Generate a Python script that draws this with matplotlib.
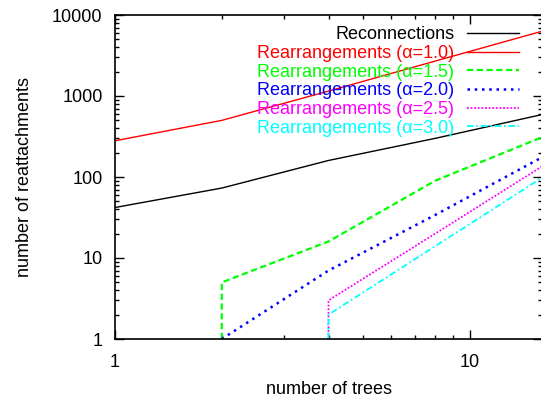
import numpy as np
import matplotlib.pyplot as plt
from matplotlib.ticker import LogLocator, NullFormatter, FixedLocator

plt.rcParams['font.family'] = ['Liberation Sans', 'DejaVu Sans']

# number of trees
trees = [1, 2, 4, 8, 16]

# reattachment counts
reconnections = [42, 73, 160, 300, 590]
rearr_10 = [280, 500, 1150, 2700, 6300]
# the vertical jumps come from the first defined point being on the axis floor
trees_15 = [2, 2, 4, 8, 16]
rearr_15 = [1, 5, 16, 90, 310]
trees_20 = [2, 4, 8, 16]
rearr_20 = [1, 7, 34, 175]
trees_25 = [4, 4, 8, 16]
rearr_25 = [1, 3, 20, 135]
trees_30 = [4, 4, 8, 16]
rearr_30 = [1, 2, 14, 98]

fig = plt.figure(figsize=(5.41, 4.0), dpi=100)
ax = fig.add_axes([115 / 541, 61 / 400, 427 / 541, 324 / 400])

ax.plot(trees, reconnections, color='black', lw=1.0, label='Reconnections')
ax.plot(trees, rearr_10, color='#ff0000', lw=1.0, label='Rearrangements (α=1.0)')
ax.plot(trees_15, rearr_15, color='#00ff00', lw=1.6, dashes=(2.8, 1.6),
        label='Rearrangements (α=1.5)')
ax.plot(trees_20, rearr_20, color='#0000ff', lw=1.8, dashes=(1, 1.9),
        label='Rearrangements (α=2.0)')
ax.plot(trees_25, rearr_25, color='#ff00ff', lw=1.3, dashes=(1, 1),
        label='Rearrangements (α=2.5)')
ax.plot(trees_30, rearr_30, color='#00ffff', lw=1.3, dashes=(3.5, 1.6, 1, 1.6),
        label='Rearrangements (α=3.0)')

ax.set_xscale('log')
ax.set_yscale('log')
ax.set_xlim(1, 16)
ax.set_ylim(1, 10000)

ax.xaxis.set_major_locator(FixedLocator([1, 10]))
ax.xaxis.set_major_formatter(plt.FuncFormatter(lambda v, p: '%d' % v))
ax.xaxis.set_minor_locator(LogLocator(base=10, subs=np.arange(2, 10)))
ax.xaxis.set_minor_formatter(NullFormatter())
ax.yaxis.set_major_locator(FixedLocator([1, 10, 100, 1000, 10000]))
ax.yaxis.set_major_formatter(plt.FuncFormatter(lambda v, p: '%d' % v))
ax.yaxis.set_minor_locator(LogLocator(base=10, subs=np.arange(2, 10)))
ax.yaxis.set_minor_formatter(NullFormatter())

ax.tick_params(which='both', direction='in', top=True, right=True,
               labelsize=13, width=1.0, colors='black')
ax.tick_params(which='major', length=6.5, pad=9)
ax.tick_params(axis='x', which='major', pad=11)
ax.tick_params(which='minor', length=3.2)
for s in ax.spines.values():
    s.set_linewidth(1.2)

ax.set_xlabel('number of trees', fontsize=13, labelpad=7)
ax.set_ylabel('number of reattachments', fontsize=13, labelpad=14)

leg = ax.legend(loc='upper right', bbox_to_anchor=(0.962, 0.988), frameon=False,
                fontsize=13, markerfirst=False, handlelength=2.85,
                handletextpad=0.7, labelspacing=0.095, borderaxespad=0)
for text, line in zip(leg.get_texts(), leg.get_lines()):
    text.set_color(line.get_color())
    text.set_ha('right')
leg._legend_box.align = 'right'

fig.savefig('out.png', dpi=100)
